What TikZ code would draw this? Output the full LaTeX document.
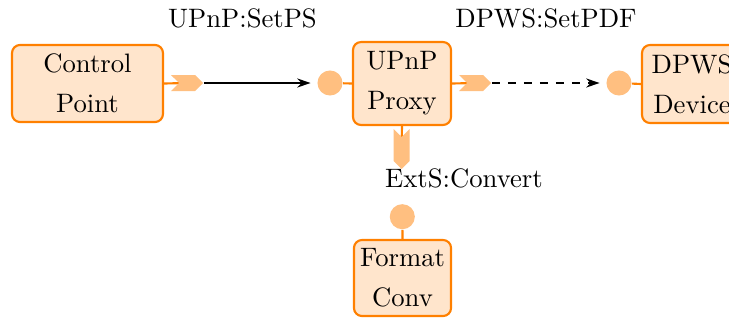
\documentclass[tikz,border=0pt]{standalone}
\usetikzlibrary{shapes.symbols,arrows.meta,backgrounds}
\definecolor{edgeorange}{RGB}{255,128,0}
\definecolor{boxfill}{RGB}{255,229,204}
\definecolor{portfill}{RGB}{255,191,128}
\begin{document}
\begin{tikzpicture}[x=0.375pt,y=-0.375pt,
  comp/.style={draw=edgeorange,fill=boxfill,line width=0.8pt,rounded corners=3pt,align=center,inner sep=0pt,font=\fontsize{10}{12}\selectfont},
  plug/.style={shape=signal,signal pointer angle=90,fill=portfill,draw=none,inner sep=0pt},
  hplug/.style={plug,signal from=west,signal to=east,minimum height=6pt,minimum width=12pt},
  vplug/.style={plug,signal from=north,signal to=south,minimum height=9pt,minimum width=6pt},
  sock/.style={circle,fill=portfill,draw=none,inner sep=0pt,minimum size=9.4pt},
  wire/.style={draw=edgeorange,line width=0.8pt},
  msg/.style={line width=0.7pt,-{Stealth[length=5pt,width=3.4pt]},shorten >=2.4pt},
  lbl/.style={anchor=base,inner sep=0pt,font=\fontsize{10}{12}\selectfont}]
\useasboundingbox (0,0) rectangle (729,322);
\node[comp,minimum width=56.6pt,minimum height=28.9pt] (cp) at (87.5,83.5) {Control\\[3pt]Point};
\node[comp,minimum width=36.75pt,minimum height=31.1pt] (proxy) at (402,83.5) {UPnP\\[3pt]Proxy};
\node[comp,minimum width=36.4pt,minimum height=28.5pt] (fmt) at (402.5,278) {Format\\[3pt]Conv};
\node[comp,minimum width=37.5pt,minimum height=29.25pt] (dpws) at (692,84) {DPWS\\[3pt]Device};

\node[hplug] (p1) at (187,83) {};
\node[hplug] (p2) at (475,83) {};
\node[vplug] (p3) at (401.5,149) {};

\node[sock] (s1) at (330,83) {};
\node[sock] (s2) at (619,83) {};
\node[sock] (s3) at (402.3,216.7) {};

\node[lbl] (l1) at (242.5,27) {UPnP:SetPS};
\node[lbl] (l2) at (546,27) {DPWS:SetPDF};
\node[lbl] (l3) at (464,187) {ExtS:Convert};

\begin{scope}[on background layer]
\draw[wire] (cp.east) -- (p1.center);
\draw[wire] (proxy.east) -- (p2.center);
\draw[wire] (proxy.south) -- (p3.center);
\end{scope}
\draw[wire] (s1) -- (proxy.west);
\draw[wire] (s2) -- (dpws.west);
\draw[wire] (s3) -- (fmt.north);
\draw[msg] (p1.east) -- (s1);
\draw[msg,dashed] (p2.east) -- (s2);
\end{tikzpicture}
\end{document}
